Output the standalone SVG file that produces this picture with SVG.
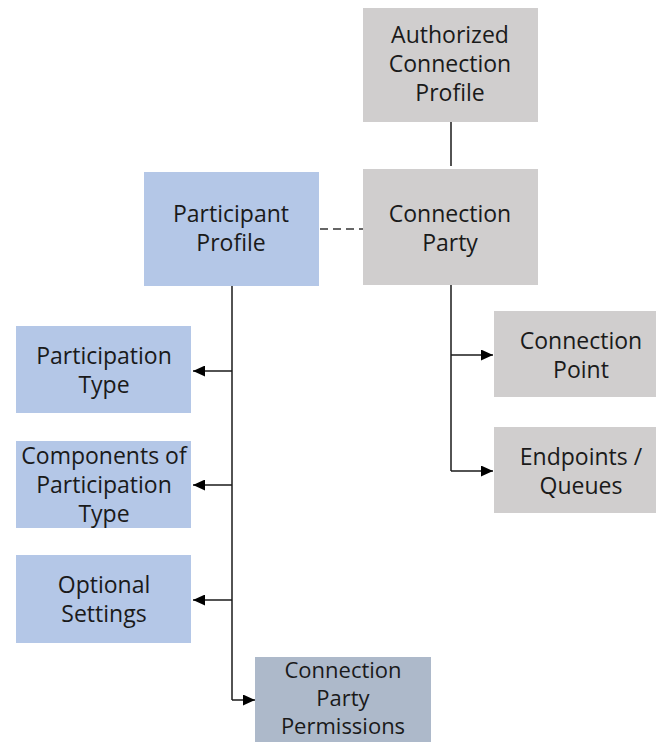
<svg xmlns="http://www.w3.org/2000/svg" width="656" height="742" viewBox="0 0 656 742">
<style>
.gray{fill:#d0cece}
.blue{fill:#b4c7e7}
.slate{fill:#adb9ca}
text{font-family:"Open Sans","Liberation Sans",sans-serif;font-size:23px;fill:#1a1a1a;text-anchor:middle}
.sm{font-size:22px}
.ln{stroke:#1a1a1a;stroke-width:1.5;fill:none}
</style>
<defs>
<marker id="ah" viewBox="0 0 10 10" refX="10" refY="5" markerWidth="12" markerHeight="11" markerUnits="userSpaceOnUse" orient="auto" preserveAspectRatio="none"><path d="M0,0 L10,5 L0,10 z" fill="#000"/></marker>
</defs>
<rect width="656" height="742" fill="#fff"/>
<g id="connectors">
<line class="ln" x1="451" y1="122" x2="451" y2="166"/>
<line x1="320" y1="229" x2="363" y2="229" stroke="#666" stroke-width="2" stroke-dasharray="8,5"/>
<line class="ln" x1="232" y1="286" x2="232" y2="700"/>
<path class="ln" d="M232,371 H193" marker-end="url(#ah)"/>
<path class="ln" d="M232,485 H193" marker-end="url(#ah)"/>
<path class="ln" d="M232,600 H193" marker-end="url(#ah)"/>
<path class="ln" d="M232,700 H255" marker-end="url(#ah)"/>
<line class="ln" x1="451" y1="285" x2="451" y2="471"/>
<path class="ln" d="M451,355 H493" marker-end="url(#ah)"/>
<path class="ln" d="M451,471 H493" marker-end="url(#ah)"/>
</g>
<g id="authorized-connection-profile">
<rect class="gray" x="363" y="8" width="175" height="114"/>
<text x="450" y="43">Authorized</text><text x="450" y="72">Connection</text><text x="450" y="101">Profile</text>
</g>
<g id="connection-party">
<rect class="gray" x="363" y="169" width="175" height="116"/>
<text x="450" y="222">Connection</text><text x="450" y="251">Party</text>
</g>
<g id="participant-profile">
<rect class="blue" x="144" y="172" width="175" height="114"/>
<text x="231" y="222">Participant</text><text x="231" y="251">Profile</text>
</g>
<g id="participation-type">
<rect class="blue" x="16" y="326" width="175" height="87"/>
<text x="104" y="364">Participation</text><text x="104" y="393">Type</text>
</g>
<g id="components-of-participation-type">
<rect class="blue" x="16" y="441" width="175" height="87"/>
<text x="104" y="464">Components of</text><text x="104" y="493">Participation</text><text x="104" y="522">Type</text>
</g>
<g id="optional-settings">
<rect class="blue" x="16" y="555" width="175" height="88"/>
<text x="104" y="593">Optional</text><text x="104" y="622">Settings</text>
</g>
<g id="connection-party-permissions">
<rect class="slate" x="255" y="657" width="176" height="85"/>
<text class="sm" x="343" y="678">Connection</text><text class="sm" x="343" y="706">Party</text><text class="sm" x="343" y="734">Permissions</text>
</g>
<g id="connection-point">
<rect class="gray" x="494" y="311" width="162" height="86"/>
<text x="581" y="349">Connection</text><text x="581" y="378">Point</text>
</g>
<g id="endpoints-queues">
<rect class="gray" x="494" y="427" width="162" height="86"/>
<text x="581" y="465">Endpoints /</text><text x="581" y="494">Queues</text>
</g>
</svg>
